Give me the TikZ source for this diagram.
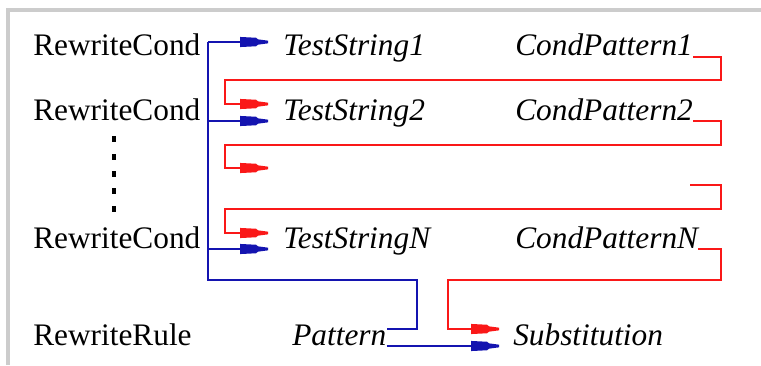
\documentclass[tikz,border=0pt]{standalone}
\usepackage{fontspec}
\setmainfont{Liberation Serif}
\definecolor{cblue}{RGB}{20,20,176}
\definecolor{cred}{RGB}{250,24,24}
\definecolor{cframe}{RGB}{204,204,204}
\pgfdeclarearrow{
  name = Flag,
  setup code = {
    \pgfarrowssettipend{0pt}
    \pgfarrowssetlineend{-12pt}
    \pgfarrowssetvisualbackend{-21pt}
    \pgfarrowssetbackend{-21pt}
  },
  drawing code = {
    \pgfpathmoveto{\pgfqpoint{-21pt}{3.8pt}}
    \pgfpathlineto{\pgfqpoint{-9pt}{3.2pt}}
    \pgfpathlineto{\pgfqpoint{-7.5pt}{2pt}}
    \pgfpathlineto{\pgfqpoint{0pt}{1pt}}
    \pgfpathlineto{\pgfqpoint{0pt}{-1pt}}
    \pgfpathlineto{\pgfqpoint{-7.5pt}{-2pt}}
    \pgfpathlineto{\pgfqpoint{-9pt}{-3.2pt}}
    \pgfpathlineto{\pgfqpoint{-21pt}{-3.8pt}}
    \pgfpathclose
    \pgfusepathqfill
  }
}
\begin{document}
\begin{tikzpicture}[x=0.75pt,y=-0.75pt,
  lbl/.style={anchor=base west,inner sep=0pt,font=\fontsize{23.5}{28}\selectfont},
  ital/.style={anchor=base west,inner sep=0pt,font=\fontsize{23.5}{28}\selectfont\itshape},
  bline/.style={color=cblue,line width=1pt,line join=miter},
  rline/.style={color=cred,line width=1pt,line join=miter},
  vdot/.style={fill=black,draw=none,inner sep=0pt,minimum width=3pt,minimum height=4.5pt}]
\useasboundingbox (0,0) rectangle (761,365);
% frame
\fill[cframe] (6,8) rectangle (761,12);
\fill[cframe] (6,8) rectangle (10,365);
% left labels
\node[lbl] (rc1) at (33,55) {RewriteCond};
\node[lbl] (rc2) at (33,120) {RewriteCond};
\node[lbl] (rcn) at (33,248) {RewriteCond};
\node[lbl] (rr)  at (33,345) {RewriteRule};
% vertical dots
\foreach \i/\yy in {1/139,2/157,3/174,4/191,5/209}
  \node[vdot] (d\i) at (114,\yy) {};
% italic labels
\node[ital] (ts1) at (283,55) {TestString1};
\node[ital] (ts2) at (283,120) {TestString2};
\node[ital] (tsn) at (283,248) {TestStringN};
\node[ital] (cp1) at (515,55) {CondPattern1};
\node[ital] (cp2) at (515,120) {CondPattern2};
\node[ital] (cpn) at (515,248) {CondPatternN};
\node[ital] (pat) at (292,345) {Pattern};
\node[ital] (sub) at (513,345) {Substitution};
% coordinates of arrow tips and corners
\coordinate (b1) at (268,42);
\coordinate (b2) at (268,121);
\coordinate (bn) at (268,249);
\coordinate (r1) at (268,104);
\coordinate (r2) at (268,168);
\coordinate (rn) at (268,233);
\coordinate (r3s) at (690,185);
\coordinate (sr) at (499,329);
\coordinate (sb) at (499,346);
% blue connectors
\draw[bline,-Flag] (208,42) -- (b1);
\draw[bline] (208,42) -- (208,280) -- (417,280) -- (417,329) -- (pat.base east |- 0,329);
\draw[bline,-Flag] (208,121) -- (b2);
\draw[bline,-Flag] (208,249) -- (bn);
\draw[bline,-Flag] (pat.base east |- 0,346) -- (sb);
% red connectors
\draw[rline,-Flag] (cp1.base east |- 0,57) -- (721,57) -- (721,80) -- (225,80) -- (225,104) -- (r1);
\draw[rline,-Flag] (cp2.base east |- 0,121) -- (721,121) -- (721,145) -- (225,145) -- (225,168) -- (r2);
\draw[rline,-Flag] (r3s) -- (721,185) -- (721,209) -- (225,209) -- (225,233) -- (rn);
\draw[rline,-Flag] (cpn.base east |- 0,249) -- (721,249) -- (721,280) -- (448,280) -- (448,329) -- (sr);
\end{tikzpicture}
\end{document}
